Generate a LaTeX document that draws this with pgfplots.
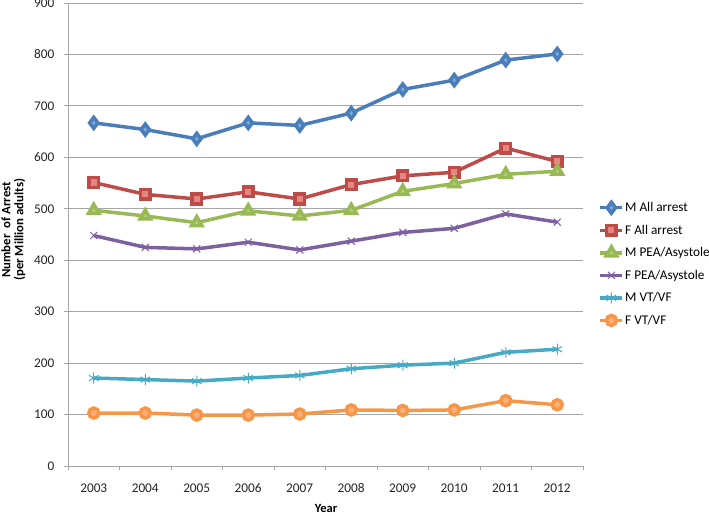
\documentclass[border=0pt]{standalone}
\usepackage{fontspec}
\setmainfont{Carlito}
\usepackage{pgfplots}
\pgfplotsset{compat=1.18}
\definecolor{cBlue}{HTML}{4A7EBB}
\definecolor{cBlueF}{HTML}{7EA8DA}
\definecolor{cRed}{HTML}{BE4B48}
\definecolor{cRedF}{HTML}{E58683}
\definecolor{cGreen}{HTML}{98B954}
\definecolor{cGreenF}{HTML}{B3D37A}
\definecolor{cPurple}{HTML}{7D60A0}
\definecolor{cTeal}{HTML}{46AAC5}
\definecolor{cOrange}{HTML}{F79646}
\definecolor{cOrangeF}{HTML}{FAB07A}
\definecolor{gridgray}{HTML}{A6A6A6}
\begin{document}
\begin{tikzpicture}
\path[use as bounding box] (0,0) rectangle (709pt,516pt);
\begin{axis}[
  at={(68pt,50pt)}, anchor=south west,
  scale only axis, width=515pt, height=463pt,
  xmin=2002.5, xmax=2012.5, ymin=0, ymax=900,
  axis lines=left, axis line style={-, draw=gridgray, line width=0.8pt},
  xtick={2003,...,2012},
  xticklabels={2003,2004,2005,2006,2007,2008,2009,2010,2011,2012},
  minor xtick={2002.5,2003.5,...,2012.5},
  ytick={0,100,...,900},
  major x tick style={draw=none},
  minor x tick style={draw=gridgray, line width=0.8pt},
  y tick style={draw=gridgray, line width=0.8pt},
  tick align=outside, major tick length=4pt, minor tick length=4pt,
  ymajorgrids, grid style={gridgray, line width=0.8pt},
  /pgf/number format/assume math mode=true,
  tick label style={font=\fontsize{13.3}{15}\selectfont, text=black!85},
  xticklabel style={yshift=-10pt},
  yticklabel style={xshift=-6pt},
  xlabel={\bfseries Year},
  xlabel style={at={(axis description cs:0.501,-0.092)}, anchor=center, font=\fontsize{12.5}{14}\selectfont},
  ylabel={\bfseries Number\ \ of Arrest\\\bfseries(per Million adults)},
  ylabel style={at={(axis description cs:-0.106,0.51)}, anchor=center, align=center, font=\fontsize{12.8}{12.8}\selectfont},
  legend cell align=left,
  legend style={at={(1.03,0.572)}, anchor=north west, draw=none, fill=none,
    font=\fontsize{13.3}{15}\selectfont, row sep=9.8pt, inner sep=0pt,
    nodes={inner sep=1pt}},
  legend image code/.code={\draw[mark repeat=2,mark phase=2,#1] plot coordinates {(0pt,0pt) (11pt,0pt) (22pt,0pt)};},
  every axis plot/.append style={line width=3.5pt, mark options={solid, line width=0.8pt}},
]
\addplot[cBlue, mark=diamond*, mark size=5.5pt, mark options={fill=cBlueF, draw=cBlue}] coordinates {
(2003,667) (2004,654) (2005,636) (2006,667) (2007,662) (2008,686) (2009,732) (2010,750) (2011,789) (2012,801)};
\addlegendentry{M All arrest}
\addplot[cRed, mark=square*, mark size=4.8pt, mark options={fill=cRedF, draw=cRed}] coordinates {
(2003,551) (2004,528) (2005,519) (2006,533) (2007,519) (2008,547) (2009,564) (2010,571) (2011,618) (2012,592)};
\addlegendentry{F All arrest}
\addplot[cGreen, mark=triangle*, mark size=6pt, mark options={fill=cGreenF, draw=cGreen}] coordinates {
(2003,497) (2004,486) (2005,473) (2006,496) (2007,486) (2008,497) (2009,534) (2010,549) (2011,567) (2012,573)};
\addlegendentry{M PEA/Asystole}
\addplot[cPurple, mark=x, mark size=5pt, mark options={draw=cPurple, line width=1pt}] coordinates {
(2003,448) (2004,425) (2005,422) (2006,435) (2007,420) (2008,437) (2009,454) (2010,462) (2011,490) (2012,474)};
\addlegendentry{F PEA/Asystole}
\addplot[cTeal, mark=asterisk, mark size=5.5pt, mark options={draw=cTeal, line width=1pt}] coordinates {
(2003,171) (2004,168) (2005,165) (2006,171) (2007,176) (2008,189) (2009,196) (2010,200) (2011,221) (2012,227)};
\addlegendentry{M VT/VF}
\addplot[cOrange, mark=*, mark size=5pt, mark options={fill=cOrangeF, draw=cOrange}] coordinates {
(2003,103) (2004,103) (2005,99) (2006,99) (2007,101) (2008,109) (2009,108) (2010,109) (2011,127) (2012,119)};
\addlegendentry{F VT/VF}
\end{axis}
\end{tikzpicture}
\end{document}
